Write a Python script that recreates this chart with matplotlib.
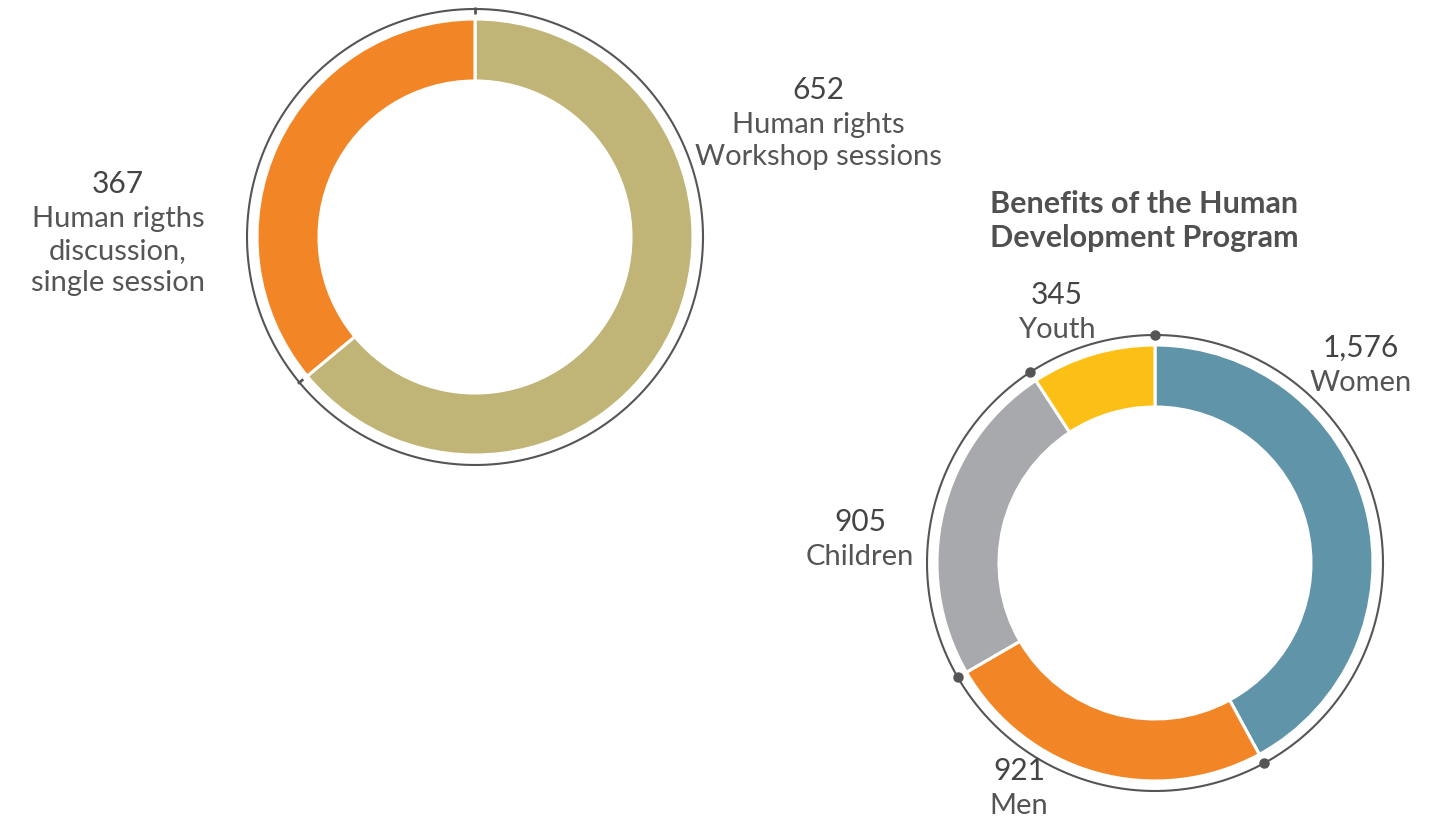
import numpy as np
import matplotlib
matplotlib.use('Agg')
import matplotlib.pyplot as plt

plt.rcParams['font.family'] = ['Lato', 'DejaVu Sans']

# left donut
left_values = [652, 367]
left_labels = ['Human rights\nWorkshop sessions', 'Human rigths\ndiscussion,\nsingle session']
left_colors = ['#C0B577', '#F28627']

# right donut
right_values = [1576, 921, 905, 345]
right_labels = ['Women', 'Men', 'Children', 'Youth']
right_colors = ['#6094A8', '#F28627', '#A8A9AD', '#FBBF15']
right_title = 'Benefits of the Human\nDevelopment Program'

W, H = 1447, 819
fig = plt.figure(figsize=(W / 100, H / 100), dpi=100)
ax = fig.add_axes([0, 0, 1, 1])

R, WIDTH, RING = 218, 62, 228
num_color = '#444444'
lab_color = '#555555'


def donut(values, colors, center, mark):
    ax.pie(values, colors=colors, center=center, radius=R, startangle=90,
           counterclock=False, wedgeprops=dict(width=WIDTH, edgecolor='white', linewidth=2.2))
    t = np.linspace(0, 2 * np.pi, 400)
    ax.plot(center[0] + RING * np.cos(t), center[1] + RING * np.sin(t), color='#555555', lw=1.5)
    bounds = np.concatenate([[0], np.cumsum(values)[:-1]]) / sum(values)
    ang = np.deg2rad(90 - 360 * bounds)
    for a in ang:
        if mark == 'dot':
            ax.plot(center[0] + RING * np.cos(a), center[1] + RING * np.sin(a), 'o',
                    color='#555555', ms=6.5)
        else:
            r0, r1 = RING - 5, RING + 2
            ax.plot([center[0] + r0 * np.cos(a), center[0] + r1 * np.cos(a)],
                    [center[1] + r0 * np.sin(a), center[1] + r1 * np.sin(a)],
                    color='#555555', lw=2.0, solid_capstyle='butt')


donut(left_values, left_colors, (475, H - 237), 'tick')
donut(right_values, right_colors, (1155, H - 563), 'dot')

ax.set_xlim(0, W)
ax.set_ylim(0, H)
ax.set_aspect('equal')
ax.axis('off')


def label(x, y, value, text):
    ax.text(x, H - y - 3, f'{value:,}', ha='center', va='center', fontsize=21.5, color=num_color)
    ax.text(x, H - y - 25, text, ha='center', va='top', fontsize=21, color=lab_color,
            linespacing=1.29)


label(818, 87, left_values[0], left_labels[0])
label(118, 181, left_values[1], left_labels[1])

right_pos = [(1361, 345), (1019, 768), (860, 519), (1057, 292)]
for (x, y), v, t in zip(right_pos, right_values, right_labels):
    label(x, y, v, t)

ax.text(1144, H - 221, right_title, ha='center', va='center', fontsize=22,
        fontweight='bold', color='#505050', linespacing=1.3)

fig.savefig('out.png', dpi=100)
